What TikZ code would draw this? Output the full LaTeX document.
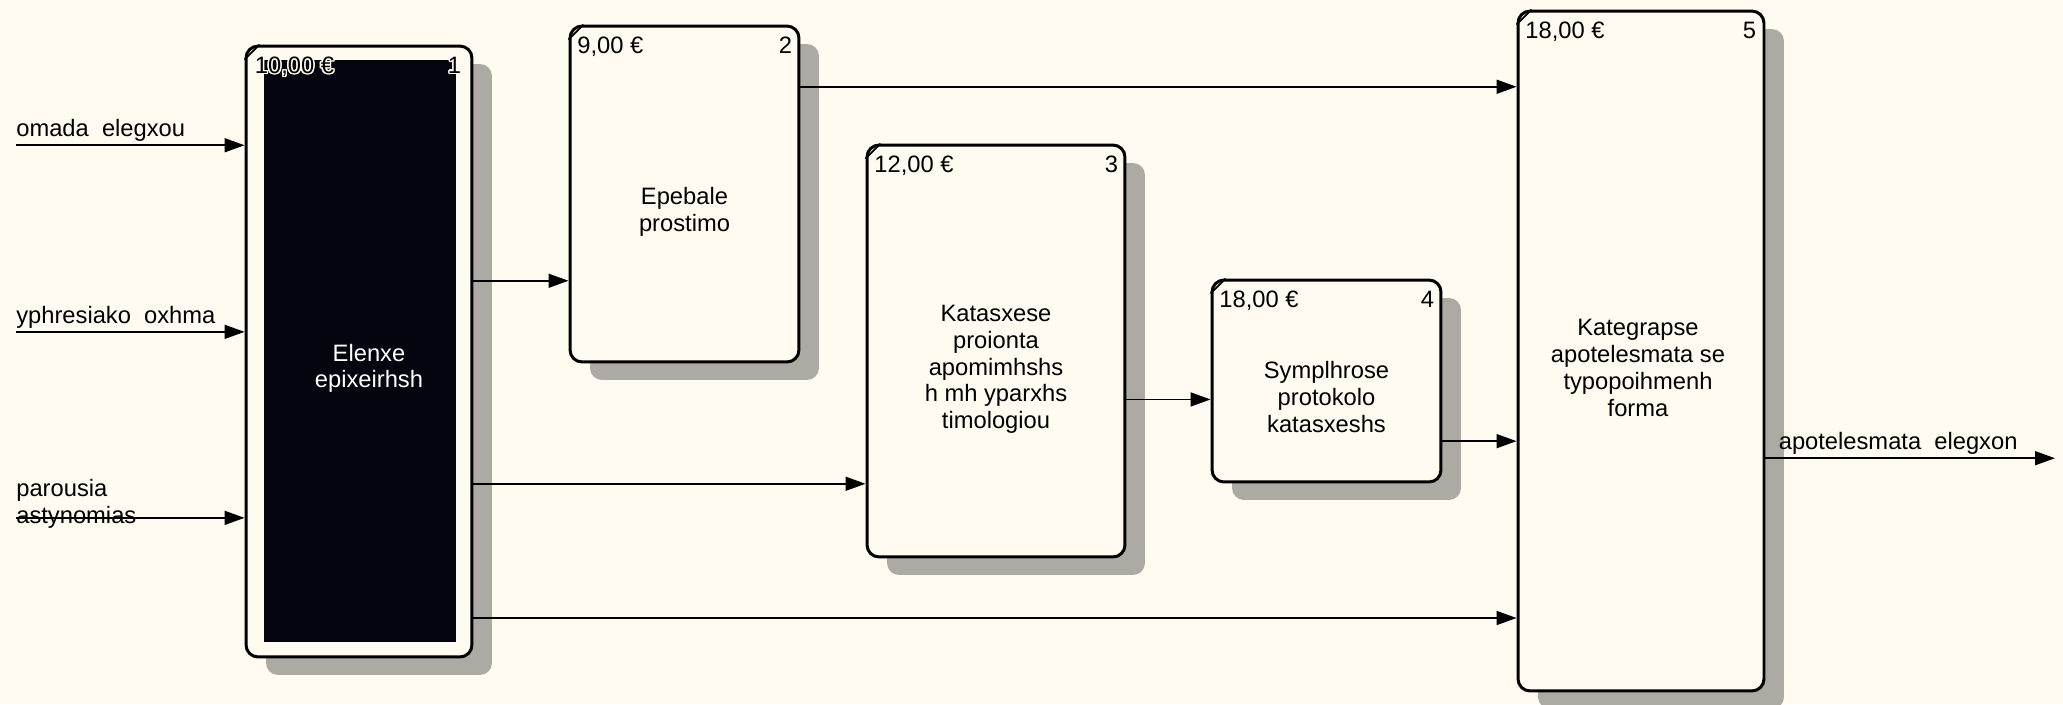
\documentclass[tikz,border=0pt]{standalone}
\usepackage{fontspec}
\setmainfont{Liberation Sans}
\usepackage{contour}
\contourlength{0.8pt}
\definecolor{idefbg}{RGB}{255,251,240}
\definecolor{idefshadow}{RGB}{172,170,162}
\definecolor{idefdark}{RGB}{3,5,15}
\usetikzlibrary{arrows.meta,calc}

\begin{document}
\begin{tikzpicture}[x=0.02cm,y=-0.02cm,font=\fontsize{13.5}{15.2}\selectfont,
  act/.style={draw,line width=1.7pt,fill=idefbg,rounded corners=0.24cm,
    preaction={fill=idefshadow,transform canvas={shift={(0.4cm,-0.36cm)}}}},
  acttext/.style={align=center,inner sep=0pt},
  cost/.style={anchor=north west,inner sep=0pt},
  num/.style={anchor=north east,inner sep=0pt},
  flow/.style={line width=0.9pt,-{Triangle[length=0.4cm,width=0.28cm]}},
  tag/.style={anchor=south west,inner sep=0pt,align=left}]
  \path[use as bounding box,fill=idefbg] (0,0) rectangle (2063,704);
  % activity boxes
  \node[act,minimum width=4.52cm,minimum height=12.22cm] (b1) at (359,351.5) {};
  \node[act,minimum width=4.58cm,minimum height=6.72cm] (b2) at (684.5,194) {};
  \node[act,minimum width=5.16cm,minimum height=8.24cm] (b3) at (996,351) {};
  \node[act,minimum width=4.58cm,minimum height=4.04cm] (b4) at (1326.5,381) {};
  \node[act,minimum width=4.92cm,minimum height=13.6cm] (b5) at (1641,351) {};
  \fill[idefdark] ([shift={(0.38cm,-0.3cm)}]b1.north west) rectangle ([shift={(-0.34cm,0.32cm)}]b1.south east);
  \foreach \b in {b1,b2,b3,b4,b5}
    \draw[line width=1pt] ([yshift=-0.3cm]\b.north west) -- ([xshift=0.3cm]\b.north west);
  % box texts
  \node[acttext,text=white] (t1) at ([shift={(0.2cm,-0.34cm)}]b1.center) {Elenxe\\epixeirhsh};
  \node[acttext] (t2) at ([yshift=-0.36cm]b2.center) {Epebale\\prostimo};
  \node[acttext] (t3) at ([yshift=-0.37cm]b3.center) {Katasxese\\proionta\\apomimhshs\\h mh yparxhs\\timologiou};
  \node[acttext] (t4) at ([yshift=-0.32cm]b4.center) {Symplhrose\\protokolo\\katasxeshs};
  \node[acttext] (t5) at ([shift={(-0.06cm,-0.34cm)}]b5.center) {Kategrapse\\apotelesmata se\\typopoihmenh\\forma};
  % costs and numbers
  \node[cost] (c1) at ([shift={(0.2cm,-0.24cm)}]b1.north west) {\contour{idefbg}{10,00 €}};
  \node[cost] (c2) at ([shift={(0.17cm,-0.24cm)}]b2.north west) {9,00 €};
  \node[cost] (c3) at ([shift={(0.17cm,-0.24cm)}]b3.north west) {12,00 €};
  \node[cost] (c4) at ([shift={(0.17cm,-0.24cm)}]b4.north west) {18,00 €};
  \node[cost] (c5) at ([shift={(0.17cm,-0.24cm)}]b5.north west) {18,00 €};
  \node[num] (n1) at ([shift={(-0.24cm,-0.24cm)}]b1.north east) {\contour{idefbg}{1}};
  \node[num] (n2) at ([shift={(-0.16cm,-0.24cm)}]b2.north east) {2};
  \node[num] (n3) at ([shift={(-0.16cm,-0.24cm)}]b3.north east) {3};
  \node[num] (n4) at ([shift={(-0.16cm,-0.24cm)}]b4.north east) {4};
  \node[num] (n5) at ([shift={(-0.18cm,-0.24cm)}]b5.north east) {5};
  % ports
  \coordinate (lft) at (16,0);
  \coordinate (rgt) at (2055,0);
  \coordinate (i1) at ($(b1.north west)!0.164!(b1.south west)$);
  \coordinate (i2) at ($(b1.north west)!0.468!(b1.south west)$);
  \coordinate (i3) at ($(b1.north west)!0.771!(b1.south west)$);
  \coordinate (s1) at (lft |- i1);
  \coordinate (s2) at (lft |- i2);
  \coordinate (s3) at (lft |- i3);
  \coordinate (i12) at ($(b2.north west)!0.756!(b2.south west)$);
  \coordinate (i13) at ($(b3.north west)!0.82!(b3.south west)$);
  \coordinate (i34) at ($(b4.north west)!0.59!(b4.south west)$);
  \coordinate (i25) at ($(b5.north west)!0.113!(b5.south west)$);
  \coordinate (i45) at ($(b5.north west)!0.632!(b5.south west)$);
  \coordinate (i15) at ($(b5.north west)!0.891!(b5.south west)$);
  \coordinate (o5) at ($(b5.north east)!0.657!(b5.south east)$);
  % flows
  \draw[flow] (s1) -- (i1);
  \draw[flow] (s2) -- (i2);
  \draw[flow] (s3) -- (i3);
  \draw[flow] (b1.east |- i12) -- (i12);
  \draw[flow] (b1.east |- i13) -- (i13);
  \draw[flow] (b1.east |- i15) -- (i15);
  \draw[flow] (b2.east |- i25) -- (i25);
  \draw[flow] (b3.east |- i34) -- (i34);
  \draw[flow] (b4.east |- i45) -- (i45);
  \draw[flow] (o5) -- (o5 -| rgt);
  % labels
  \node[tag] (l1) at ([yshift=0.06cm]s1) {omada~~elegxou};
  \node[tag] (l2) at ([yshift=0.06cm]s2) {yphresiako~~oxhma};
  \node[tag] (l3) at ([yshift=-0.22cm]s3) {parousia\\astynomias};
  \node[tag] (l4) at ([shift={(0.26cm,0.06cm)}]o5) {apotelesmata~~elegxon};
\end{tikzpicture}
\end{document}
